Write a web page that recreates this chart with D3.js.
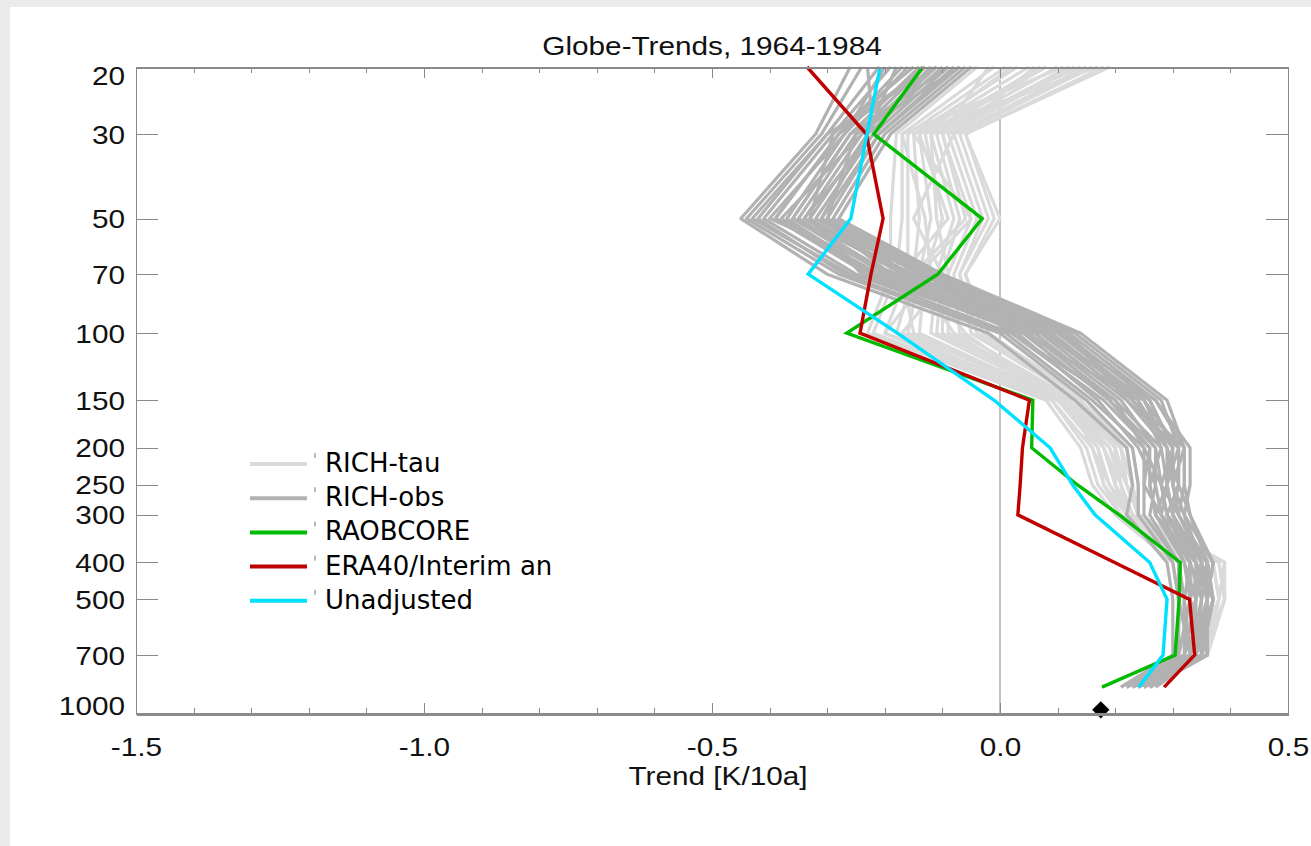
<!DOCTYPE html>
<html>
<head>
<meta charset="utf-8">
<script src="https://d3js.org/d3.v7.min.js"></script>
<style>
  html, body { margin: 0; padding: 0; background: #ebebeb; }
  svg { display: block; }
  .axis path, .axis line { stroke: #8a8a8a; shape-rendering: crispEdges; }
  .axis text { font-family: "Liberation Sans", Arial, Helvetica, sans-serif; font-size: 25px; fill: #111; }
</style>
</head>
<body>
<script>
// ---------------- data ----------------
const levels = [20, 30, 50, 70, 100, 150, 200, 250, 300, 400, 500, 700, 850];

const yTicks = [20, 30, 50, 70, 100, 150, 200, 250, 300, 400, 500, 700, 1000];
const xMajorTicks = [-1.5, -1.0, -0.5, 0.0, 0.5];
const xMinorTicks = [-1.4, -1.3, -1.2, -1.1, -0.9, -0.8, -0.7, -0.6, -0.4, -0.3, -0.2, -0.1, 0.1, 0.2, 0.3, 0.4];

// RICH-tau ensemble members (light grey)
const richTau = [
  [-0.04,-0.18,-0.19,-0.19,-0.23,0.08,0.14,0.16,0.20,0.30,0.31,0.31,0.21],
  [-0.01,-0.17,-0.17,-0.18,-0.22,0.09,0.15,0.17,0.21,0.31,0.32,0.30,0.21],
  [0.01,-0.16,-0.16,-0.16,-0.20,0.09,0.16,0.18,0.21,0.32,0.33,0.32,0.22],
  [0.03,-0.15,-0.14,-0.15,-0.18,0.10,0.17,0.18,0.22,0.33,0.34,0.31,0.22],
  [0.05,-0.14,-0.12,-0.14,-0.16,0.11,0.17,0.19,0.22,0.34,0.35,0.33,0.23],
  [0.07,-0.13,-0.10,-0.13,-0.14,0.11,0.18,0.20,0.23,0.35,0.36,0.32,0.24],
  [0.08,-0.12,-0.08,-0.11,-0.12,0.12,0.19,0.21,0.23,0.36,0.37,0.34,0.23],
  [0.10,-0.11,-0.07,-0.10,-0.10,0.12,0.20,0.21,0.23,0.36,0.37,0.35,0.25],
  [0.12,-0.10,-0.05,-0.09,-0.09,0.13,0.20,0.22,0.24,0.37,0.38,0.34,0.24],
  [0.13,-0.09,-0.04,-0.08,-0.07,0.13,0.21,0.22,0.24,0.38,0.39,0.35,0.25],
  [0.15,-0.08,-0.03,-0.07,-0.05,0.14,0.21,0.23,0.24,0.38,0.39,0.36,0.26],
  [0.16,-0.07,-0.02,-0.07,-0.04,0.14,0.22,0.23,0.24,0.39,0.38,0.35,0.25],
  [0.18,-0.06,-0.01,-0.06,-0.03,0.15,0.22,0.23,0.24,0.39,0.39,0.36,0.26],
  [0.19,-0.06,0.00,-0.06,-0.02,0.15,0.23,0.24,0.24,0.38,0.39,0.35,0.25],
  [0.02,-0.14,-0.09,-0.17,-0.15,0.10,0.18,0.20,0.22,0.33,0.36,0.33,0.23],
  [0.11,-0.17,-0.13,-0.12,-0.20,0.12,0.16,0.19,0.23,0.35,0.34,0.32,0.24],
  [-0.02,-0.10,-0.06,-0.15,-0.08,0.11,0.19,0.22,0.24,0.37,0.38,0.34,0.22],
  [0.14,-0.12,-0.11,-0.09,-0.17,0.13,0.18,0.21,0.22,0.34,0.37,0.35,0.25],
  [0.06,-0.08,-0.15,-0.10,-0.11,0.14,0.20,0.20,0.23,0.36,0.35,0.33,0.24],
  [0.17,-0.15,-0.05,-0.14,-0.06,0.10,0.21,0.22,0.24,0.39,0.38,0.36,0.26]
];

// RICH-obs ensemble members (mid grey)
const richObs = [
  [-0.26,-0.32,-0.45,-0.30,-0.02,0.13,0.22,0.23,0.22,0.29,0.30,0.30,0.21],
  [-0.24,-0.31,-0.44,-0.28,0.00,0.15,0.23,0.24,0.24,0.30,0.31,0.31,0.22],
  [-0.21,-0.30,-0.42,-0.27,0.01,0.16,0.25,0.25,0.25,0.31,0.32,0.32,0.22],
  [-0.19,-0.29,-0.41,-0.25,0.02,0.18,0.26,0.26,0.27,0.32,0.33,0.31,0.23],
  [-0.17,-0.28,-0.39,-0.23,0.04,0.19,0.27,0.27,0.28,0.33,0.32,0.33,0.23],
  [-0.16,-0.27,-0.37,-0.22,0.05,0.20,0.28,0.26,0.27,0.34,0.34,0.32,0.24],
  [-0.14,-0.26,-0.36,-0.20,0.06,0.21,0.27,0.28,0.29,0.33,0.35,0.34,0.24],
  [-0.13,-0.25,-0.35,-0.19,0.07,0.22,0.29,0.29,0.30,0.35,0.34,0.33,0.23],
  [-0.11,-0.24,-0.34,-0.17,0.08,0.23,0.30,0.28,0.29,0.34,0.36,0.35,0.25],
  [-0.10,-0.23,-0.33,-0.16,0.09,0.24,0.29,0.30,0.31,0.36,0.35,0.34,0.24],
  [-0.09,-0.22,-0.32,-0.14,0.10,0.25,0.31,0.31,0.30,0.35,0.37,0.35,0.26],
  [-0.08,-0.21,-0.31,-0.13,0.11,0.26,0.30,0.30,0.32,0.37,0.36,0.36,0.25],
  [-0.07,-0.21,-0.30,-0.12,0.12,0.27,0.32,0.32,0.31,0.36,0.37,0.35,0.26],
  [-0.06,-0.20,-0.29,-0.11,0.13,0.28,0.31,0.31,0.33,0.37,0.36,0.36,0.26],
  [-0.05,-0.19,-0.28,-0.10,0.14,0.29,0.32,0.32,0.33,0.36,0.37,0.35,0.27],
  [-0.12,-0.24,-0.38,-0.21,0.10,0.27,0.33,0.33,0.32,0.35,0.36,0.34,0.25],
  [-0.20,-0.27,-0.40,-0.18,0.03,0.17,0.24,0.27,0.26,0.31,0.31,0.33,0.22],
  [-0.15,-0.29,-0.33,-0.24,0.06,0.19,0.26,0.25,0.28,0.32,0.34,0.32,0.24],
  [-0.09,-0.26,-0.36,-0.15,0.04,0.24,0.28,0.29,0.27,0.33,0.33,0.35,0.23],
  [-0.18,-0.23,-0.31,-0.19,0.12,0.22,0.31,0.29,0.30,0.34,0.35,0.33,0.25],
  [-0.11,-0.30,-0.43,-0.26,0.08,0.25,0.29,0.31,0.29,0.36,0.34,0.34,0.24],
  [-0.23,-0.22,-0.34,-0.13,0.02,0.20,0.25,0.28,0.31,0.35,0.33,0.36,0.26],
  [-0.07,-0.25,-0.30,-0.16,0.11,0.23,0.32,0.30,0.32,0.34,0.37,0.34,0.25],
  [-0.13,-0.28,-0.39,-0.22,0.07,0.26,0.30,0.29,0.28,0.36,0.36,0.33,0.24]
];

const raobcore   = [-0.134,-0.219,-0.031,-0.108,-0.266,0.057,0.055,0.134,0.207,0.313,0.311,0.304,0.177];
const era40      = [-0.335,-0.232,-0.203,-0.224,-0.243,0.051,0.039,0.035,0.031,0.199,0.329,0.338,0.285];
const unadjusted = [-0.208,-0.231,-0.259,-0.333,-0.178,-0.010,0.087,0.126,0.165,0.260,0.290,0.283,0.241];

const surfaceTrend = { value: 0.175, p: 975 };

const legendLabels = ["RICH-tau", "RICH-obs", "RAOBCORE", "ERA40/Interim an", "Unadjusted"];
const legendColors = ["#dadada", "#b2b2b2", "#00bb00", "#c00000", "#00e0ff"];

// ---------------- layout ----------------
const W = 1311, H = 846;
const X0 = 136, X1 = 1288, Y0 = 67, Y1 = 714;
const SX = 1.19; // horizontal text stretch of the original

const svg = d3.select("body").append("svg").attr("width", W).attr("height", H);
svg.append("rect").attr("x", 10).attr("y", 7).attr("width", W - 10).attr("height", H - 7).attr("fill", "#ffffff");

const x = d3.scaleLinear().domain([-1.5, 0.5]).range([X0, X1]);
const y = d3.scaleLog().domain([20, 1000]).range([Y0, Y1]);

const line = d3.line().x(d => x(d[0])).y(d => y(d[1]));
const toPts = arr => arr.map((v, i) => [v, levels[i]]);

// zero line
svg.append("line")
  .attr("x1", x(0)).attr("x2", x(0)).attr("y1", y(20)).attr("y2", y(1000))
  .attr("stroke", "#9a9a9a").attr("stroke-width", 1.2);

const plot = svg.append("g");

plot.selectAll("path.tau").data(richTau).join("path").attr("class", "tau")
  .attr("d", d => line(toPts(d))).attr("fill", "none")
  .attr("stroke", legendColors[0]).attr("stroke-width", 3.2).attr("stroke-linejoin", "round");

plot.selectAll("path.obs").data(richObs).join("path").attr("class", "obs")
  .attr("d", d => line(toPts(d))).attr("fill", "none")
  .attr("stroke", legendColors[1]).attr("stroke-width", 3.2).attr("stroke-linejoin", "round");

[[raobcore, legendColors[2]], [era40, legendColors[3]], [unadjusted, legendColors[4]]].forEach(([s, c]) => {
  plot.append("path").attr("d", line(toPts(s))).attr("fill", "none")
    .attr("stroke", c).attr("stroke-width", 3.4).attr("stroke-linejoin", "miter");
});

// surface diamond
svg.append("path")
  .attr("d", d3.symbol(d3.symbolSquare, 150)())
  .attr("transform", `translate(${x(surfaceTrend.value)},${y(surfaceTrend.p)}) rotate(45)`)
  .attr("fill", "#000");

// ---------------- axes ----------------
const fmt = d => d.toFixed(1);

const gB = svg.append("g").attr("class", "axis").attr("transform", `translate(0,${Y1})`);
gB.call(d3.axisBottom(x).tickValues(xMinorTicks).tickSizeInner(-6).tickSizeOuter(0).tickFormat(""));
const gB2 = svg.append("g").attr("class", "axis").attr("transform", `translate(0,${Y1})`);
gB2.call(d3.axisBottom(x).tickValues(xMajorTicks).tickSizeInner(-11).tickSizeOuter(0).tickPadding(24).tickFormat(fmt));
gB2.select(".domain").attr("stroke-width", 2.2).attr("stroke", "#a8a8a8");
gB2.selectAll("text").attr("transform", `scale(${SX},1)`);

const gT = svg.append("g").attr("class", "axis").attr("transform", `translate(0,${Y0})`);
gT.call(d3.axisTop(x).tickValues(xMinorTicks).tickSizeInner(-6).tickSizeOuter(0).tickFormat(""));
const gT2 = svg.append("g").attr("class", "axis").attr("transform", `translate(0,${Y0})`);
gT2.call(d3.axisTop(x).tickValues(xMajorTicks).tickSizeInner(-11).tickSizeOuter(0).tickFormat(""));
gT2.select(".domain").attr("stroke-width", 2).attr("stroke", "#a8a8a8");

const gL = svg.append("g").attr("class", "axis").attr("transform", `translate(${X0},0)`);
gL.call(d3.axisLeft(y).tickValues(yTicks).tickSizeInner(-22).tickSizeOuter(0).tickPadding(11).tickFormat(d => String(d)));
gL.selectAll("text")
  .attr("x", -11 / SX)
  .attr("dy", null)
  .attr("y", d => d === 20 ? 17 : (d === 1000 ? 0 : 9))
  .attr("transform", `scale(${SX},1)`);

const gR = svg.append("g").attr("class", "axis").attr("transform", `translate(${X1},0)`);
gR.call(d3.axisRight(y).tickValues(yTicks).tickSizeInner(-22).tickSizeOuter(0).tickFormat(""));

// ---------------- titles ----------------
svg.append("text")
  .attr("transform", `translate(712,55) scale(${SX},1)`)
  .attr("text-anchor", "middle")
  .style("font-family", "'Liberation Sans', Arial, Helvetica, sans-serif")
  .style("font-size", "25px").attr("fill", "#111")
  .text("Globe-Trends, 1964-1984");

svg.append("text")
  .attr("transform", `translate(718,785) scale(${SX},1)`)
  .attr("text-anchor", "middle")
  .style("font-family", "'Liberation Sans', Arial, Helvetica, sans-serif")
  .style("font-size", "25px").attr("fill", "#111")
  .text("Trend [K/10a]");

// ---------------- legend ----------------
const legend = svg.append("g");
const legY0 = 464, legStep = 34.2;
legendLabels.forEach((lab, i) => {
  const ly = legY0 + i * legStep;
  legend.append("line").attr("x1", 250).attr("x2", 307).attr("y1", ly).attr("y2", ly)
    .attr("stroke", legendColors[i]).attr("stroke-width", 4);
  legend.append("line").attr("x1", 315).attr("x2", 315).attr("y1", ly - 11).attr("y2", ly - 6)
    .attr("stroke", "#777").attr("stroke-width", 1);
  legend.append("text").attr("x", 325).attr("y", ly + 8)
    .style("font-family", "'Comic Sans MS', 'DejaVu Sans', sans-serif")
    .style("font-size", "26px").attr("fill", "#000")
    .text(lab);
});
</script>
</body>
</html>
